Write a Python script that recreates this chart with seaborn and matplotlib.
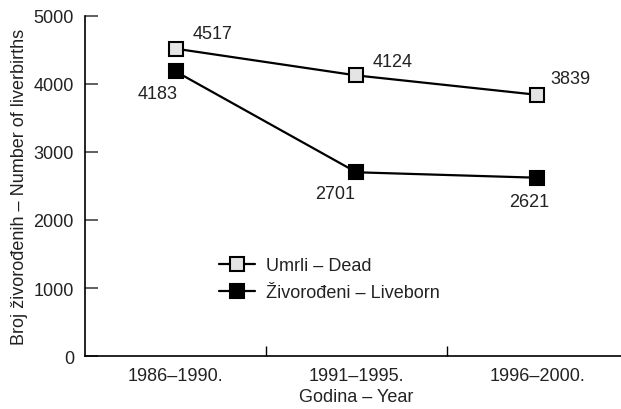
import matplotlib
matplotlib.use("Agg")
import matplotlib.pyplot as plt
import pandas as pd
import seaborn as sns
from matplotlib.ticker import FixedLocator

# data
periods = ["1986–1990.", "1991–1995.", "1996–2000."]
dead = [4517, 4124, 3839]
liveborn = [4183, 2701, 2621]
series_labels = ["Umrli – Dead", "Živorođeni – Liveborn"]

# label offsets (points) for each value label
dead_offsets = [(27, 11), (26, 10), (24, 12)]
live_offsets = [(-13, -16), (-15, -15), (-6, -17)]

sns.set_style("ticks")
plt.rcParams["font.family"] = ["Liberation Sans", "DejaVu Sans"]
FS = 13

df = pd.DataFrame({"period": periods, "dead": dead, "liveborn": liveborn})
df["pos"] = range(len(periods))

fig = plt.figure(figsize=(6.21, 4.10), dpi=100)
ax = fig.add_axes([0.137, 0.129, 0.874, 0.83])

sns.lineplot(data=df, x="pos", y="dead", ax=ax, color="black", lw=1.6,
             marker="s", markersize=9.5, markerfacecolor="#e4e4e4",
             markeredgecolor="black", markeredgewidth=1.5,
             label=series_labels[0])
sns.lineplot(data=df, x="pos", y="liveborn", ax=ax, color="black", lw=1.6,
             marker="s", markersize=9.5, markerfacecolor="black",
             markeredgecolor="black", markeredgewidth=1.5,
             label=series_labels[1])

txt = "#222222"
for i, v in enumerate(dead):
    ax.annotate(str(v), (i, v), xytext=dead_offsets[i], textcoords="offset points",
                ha="center", va="center", fontsize=FS, color=txt)
for i, v in enumerate(liveborn):
    ax.annotate(str(v), (i, v), xytext=live_offsets[i], textcoords="offset points",
                ha="center", va="center", fontsize=FS, color=txt)

ax.set_xlim(-0.5, 2.5)
ax.set_ylim(0, 5000)
ax.set_yticks([0, 1000, 2000, 3000, 4000, 5000])
ax.set_xticks(df["pos"])
ax.set_xticklabels(periods)
ax.xaxis.set_minor_locator(FixedLocator([0.5, 1.5]))
ax.tick_params(axis="x", which="major", length=0, pad=8, labelsize=FS, labelcolor=txt)
ax.tick_params(axis="x", which="minor", direction="in", length=7, width=1, color="black")
ax.tick_params(axis="y", direction="in", length=9, width=1.2, color="#444444",
               pad=8, labelsize=FS, labelcolor=txt)

ax.set_xlabel("Godina – Year", fontsize=FS, color=txt, labelpad=3)
ax.set_ylabel("Broj živorođenih – Number of liverbirths", fontsize=FS, color=txt, labelpad=4)

for s in ["left", "bottom"]:
    ax.spines[s].set_linewidth(1.2)
    ax.spines[s].set_color("black")
sns.despine(ax=ax)

leg = ax.legend(loc="center left", bbox_to_anchor=(0.246, 0.226), frameon=False,
                borderpad=0, borderaxespad=0, handlelength=2.0, handletextpad=0.6,
                labelspacing=0.55, fontsize=FS)
for t in leg.get_texts():
    t.set_color(txt)

fig.savefig("out.png", dpi=100)
